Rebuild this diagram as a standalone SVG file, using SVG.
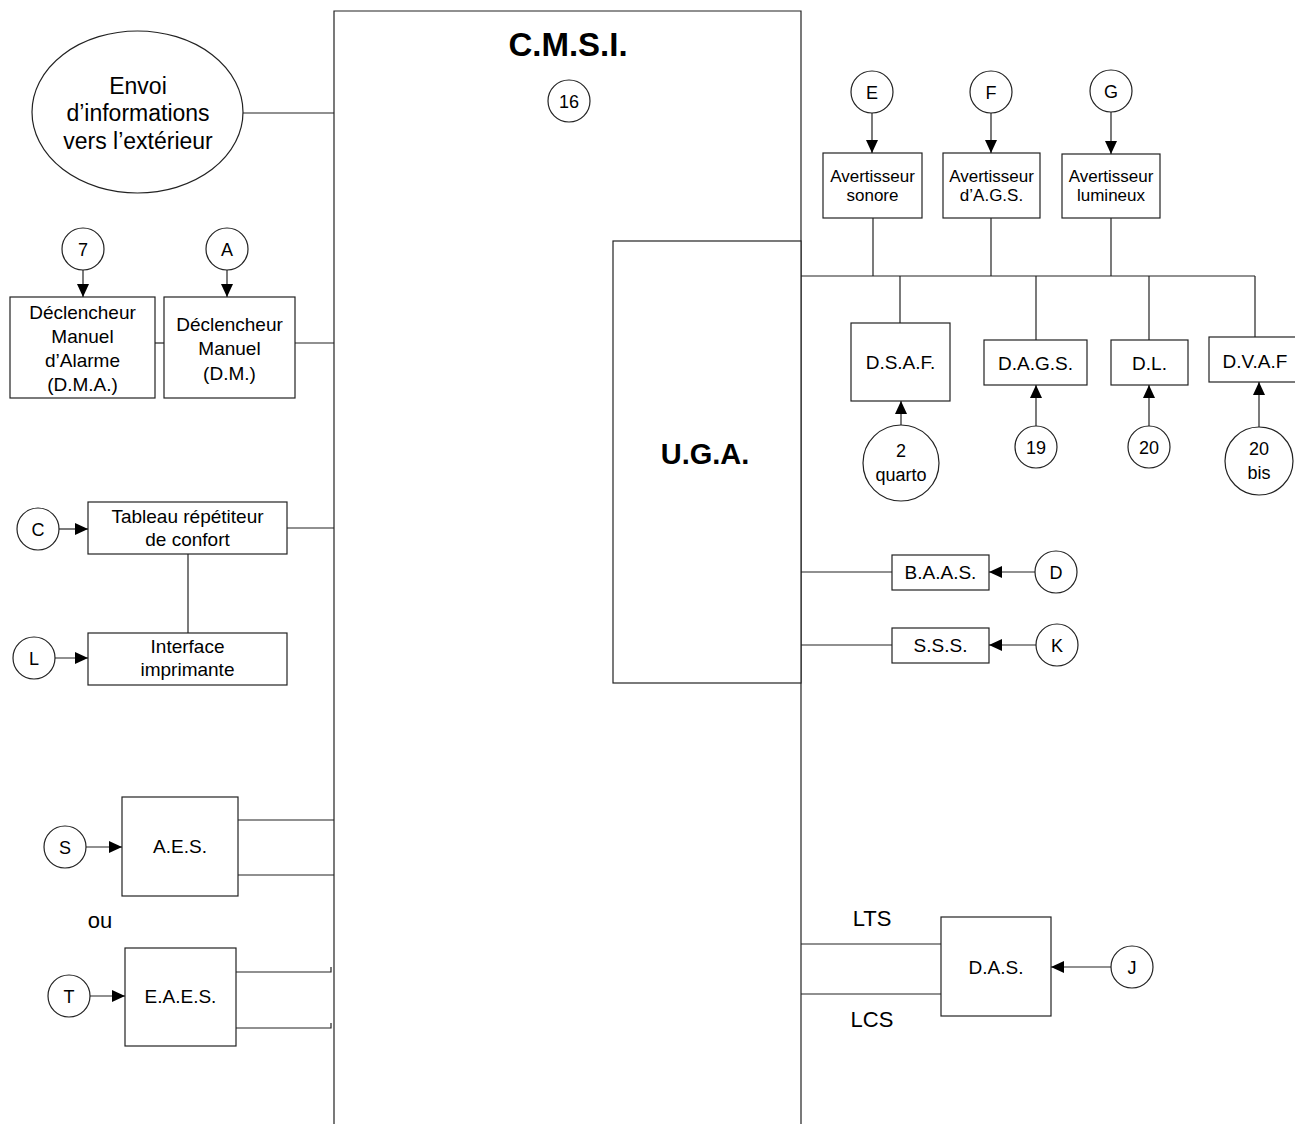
<svg xmlns="http://www.w3.org/2000/svg" width="1295" height="1124" viewBox="0 0 1295 1124">
<style>
.b{fill:#fff;stroke:#222;stroke-width:1.2}
.l{fill:none;stroke:#222;stroke-width:1.2}
text{font-family:"Liberation Sans",Arial,sans-serif;fill:#000;text-anchor:middle}
.t19{font-size:19px}
.t17{font-size:17px}
.t22{font-size:22px}
.t23{font-size:23px}
.c{font-size:18px}
</style>
<defs>
<marker id="ah" markerUnits="userSpaceOnUse" markerWidth="14" markerHeight="14" viewBox="0 0 14 14" refX="13" refY="7" orient="auto">
<path d="M0,1 L13,7 L0,13 Z" fill="#000"/>
</marker>
</defs>
<rect width="1295" height="1124" fill="#fff"/>

<g id="cmsi">
<path class="l" d="M334,1124 V11 H801 V1124"/>
<text x="568" y="56" style="font-size:33px;font-weight:bold">C.M.S.I.</text>
</g>
<g id="n16"><circle class="b" cx="569" cy="101" r="21"/><text class="c" x="569" y="108">16</text></g>

<g id="uga">
<rect class="b" x="613" y="241" width="188" height="442"/>
<text x="705" y="464" style="font-size:29px;font-weight:bold">U.G.A.</text>
</g>

<g id="envoi">
<ellipse class="b" cx="137.5" cy="112" rx="105.5" ry="81"/>
<text class="t23" x="138" y="94">Envoi</text>
<text class="t23" x="138" y="121">d’informations</text>
<text class="t23" x="138" y="149">vers l’extérieur</text>
</g>

<g id="n7"><circle class="b" cx="83" cy="249" r="21"/><text class="c" x="83" y="256">7</text></g>
<g id="nA"><circle class="b" cx="227" cy="249" r="21"/><text class="c" x="227" y="256">A</text></g>
<g id="dma">
<rect class="b" x="10" y="297" width="145" height="101"/>
<text class="t19" x="82.5" y="319">Déclencheur</text>
<text class="t19" x="82.5" y="343">Manuel</text>
<text class="t19" x="82.5" y="367">d’Alarme</text>
<text class="t19" x="82.5" y="391">(D.M.A.)</text>
</g>
<g id="dm">
<rect class="b" x="164" y="297" width="131" height="101"/>
<text class="t19" x="229.5" y="331">Déclencheur</text>
<text class="t19" x="229.5" y="355">Manuel</text>
<text class="t19" x="229.5" y="380">(D.M.)</text>
</g>

<g id="nC"><circle class="b" cx="38" cy="529" r="21"/><text class="c" x="38" y="536">C</text></g>
<g id="tableau">
<rect class="b" x="88" y="502" width="199" height="52"/>
<text class="t19" x="187.5" y="523">Tableau répétiteur</text>
<text class="t19" x="187.5" y="546">de confort</text>
</g>
<g id="nL"><circle class="b" cx="34" cy="658" r="21"/><text class="c" x="34" y="665">L</text></g>
<g id="interface">
<rect class="b" x="88" y="633" width="199" height="52"/>
<text class="t19" x="187.5" y="653">Interface</text>
<text class="t19" x="187.5" y="676">imprimante</text>
</g>

<g id="nS"><circle class="b" cx="65" cy="847" r="21"/><text class="c" x="65" y="854">S</text></g>
<g id="aes">
<rect class="b" x="122" y="797" width="116" height="99"/>
<text class="t19" x="180" y="853">A.E.S.</text>
</g>
<text class="t22" x="100" y="928">ou</text>
<g id="nT"><circle class="b" cx="69" cy="996" r="21"/><text class="c" x="69" y="1003">T</text></g>
<g id="eaes">
<rect class="b" x="125" y="948" width="111" height="98"/>
<text class="t19" x="180.5" y="1003">E.A.E.S.</text>
</g>

<g id="nE"><circle class="b" cx="872" cy="92" r="21"/><text class="c" x="872" y="99">E</text></g>
<g id="nF"><circle class="b" cx="991" cy="92" r="21"/><text class="c" x="991" y="99">F</text></g>
<g id="nG"><circle class="b" cx="1111" cy="91" r="21"/><text class="c" x="1111" y="98">G</text></g>
<g id="av-sonore">
<rect class="b" x="823" y="153" width="99" height="65"/>
<text class="t17" x="872.5" y="182">Avertisseur</text>
<text class="t17" x="872.5" y="201">sonore</text>
</g>
<g id="av-ags">
<rect class="b" x="943" y="153" width="97" height="65"/>
<text class="t17" x="991.5" y="182">Avertisseur</text>
<text class="t17" x="991.5" y="201">d’A.G.S.</text>
</g>
<g id="av-lumineux">
<rect class="b" x="1062" y="154" width="98" height="64"/>
<text class="t17" x="1111" y="182">Avertisseur</text>
<text class="t17" x="1111" y="201">lumineux</text>
</g>

<g id="dsaf">
<rect class="b" x="851" y="323" width="99" height="78"/>
<text class="t19" x="900.5" y="369">D.S.A.F.</text>
</g>
<g id="n2quarto"><circle class="b" cx="901" cy="463" r="38"/><text class="c" x="901" y="457">2</text><text class="c" x="901" y="481">quarto</text></g>
<g id="dags">
<rect class="b" x="984" y="340" width="103" height="45"/>
<text class="t19" x="1035.5" y="370">D.A.G.S.</text>
</g>
<g id="n19"><circle class="b" cx="1036" cy="447" r="21"/><text class="c" x="1036" y="454">19</text></g>
<g id="dl">
<rect class="b" x="1111" y="340" width="77" height="45"/>
<text class="t19" x="1149.5" y="370">D.L.</text>
</g>
<g id="n20"><circle class="b" cx="1149" cy="447" r="21"/><text class="c" x="1149" y="454">20</text></g>
<g id="dvaf">
<rect class="b" x="1209" y="337" width="100" height="45"/>
<text class="t19" x="1255" y="368">D.V.A.F</text>
</g>
<g id="n20bis"><circle class="b" cx="1259" cy="461" r="34"/><text class="c" x="1259" y="455">20</text><text class="c" x="1259" y="479">bis</text></g>

<g id="baas">
<rect class="b" x="892" y="555" width="97" height="35"/>
<text class="t19" x="940.5" y="579">B.A.A.S.</text>
</g>
<g id="nD"><circle class="b" cx="1056" cy="572" r="21"/><text class="c" x="1056" y="579">D</text></g>
<g id="sss">
<rect class="b" x="892" y="628" width="97" height="35"/>
<text class="t19" x="940.5" y="652">S.S.S.</text>
</g>
<g id="nK"><circle class="b" cx="1057" cy="645" r="21"/><text class="c" x="1057" y="652">K</text></g>

<g id="das">
<rect class="b" x="941" y="917" width="110" height="99"/>
<text class="t19" x="996" y="974">D.A.S.</text>
</g>
<g id="nJ"><circle class="b" cx="1132" cy="967" r="21"/><text class="c" x="1132" y="974">J</text></g>
<text class="t22" x="872" y="926">LTS</text>
<text class="t22" x="872" y="1027">LCS</text>

<g id="connectors">
<line class="l" x1="243" y1="113" x2="334" y2="113"/>
<line class="l" x1="83" y1="270" x2="83" y2="297" marker-end="url(#ah)"/>
<line class="l" x1="227" y1="270" x2="227" y2="297" marker-end="url(#ah)"/>
<line class="l" x1="155" y1="343" x2="164" y2="343"/>
<line class="l" x1="295" y1="343" x2="334" y2="343"/>
<line class="l" x1="59" y1="529" x2="88" y2="529" marker-end="url(#ah)"/>
<line class="l" x1="287" y1="528" x2="334" y2="528"/>
<line class="l" x1="188" y1="554" x2="188" y2="633"/>
<line class="l" x1="55" y1="658" x2="88" y2="658" marker-end="url(#ah)"/>
<line class="l" x1="86" y1="847" x2="122" y2="847" marker-end="url(#ah)"/>
<line class="l" x1="238" y1="820" x2="334" y2="820"/>
<line class="l" x1="238" y1="875" x2="334" y2="875"/>
<line class="l" x1="90" y1="996" x2="125" y2="996" marker-end="url(#ah)"/>
<polyline class="l" points="236,972 331,972 331,967"/>
<polyline class="l" points="236,1028 331,1028 331,1023"/>

<line class="l" x1="872" y1="113" x2="872" y2="153" marker-end="url(#ah)"/>
<line class="l" x1="991" y1="113" x2="991" y2="153" marker-end="url(#ah)"/>
<line class="l" x1="1111" y1="112" x2="1111" y2="154" marker-end="url(#ah)"/>
<line class="l" x1="873" y1="218" x2="873" y2="276"/>
<line class="l" x1="991" y1="218" x2="991" y2="276"/>
<line class="l" x1="1111" y1="218" x2="1111" y2="276"/>
<line class="l" x1="801" y1="276" x2="1255" y2="276"/>
<line class="l" x1="900" y1="276" x2="900" y2="323"/>
<line class="l" x1="1036" y1="276" x2="1036" y2="340"/>
<line class="l" x1="1149" y1="276" x2="1149" y2="340"/>
<line class="l" x1="1255" y1="276" x2="1255" y2="337"/>
<line class="l" x1="901" y1="425" x2="901" y2="401" marker-end="url(#ah)"/>
<line class="l" x1="1036" y1="426" x2="1036" y2="385" marker-end="url(#ah)"/>
<line class="l" x1="1149" y1="426" x2="1149" y2="385" marker-end="url(#ah)"/>
<line class="l" x1="1259" y1="427" x2="1259" y2="382" marker-end="url(#ah)"/>

<line class="l" x1="801" y1="572" x2="892" y2="572"/>
<line class="l" x1="1035" y1="572" x2="989" y2="572" marker-end="url(#ah)"/>
<line class="l" x1="801" y1="645" x2="892" y2="645"/>
<line class="l" x1="1036" y1="645" x2="989" y2="645" marker-end="url(#ah)"/>

<line class="l" x1="801" y1="944" x2="941" y2="944"/>
<line class="l" x1="801" y1="994" x2="941" y2="994"/>
<line class="l" x1="1111" y1="967" x2="1051" y2="967" marker-end="url(#ah)"/>
</g>
</svg>
